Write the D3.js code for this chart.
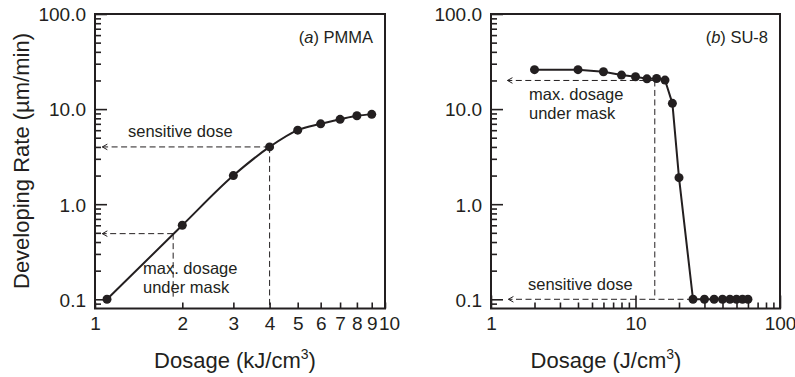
<!DOCTYPE html>
<html>
<head>
<meta charset="utf-8">
<script src="https://cdn.jsdelivr.net/npm/d3@7"></script>
<style>
  html, body { margin: 0; padding: 0; background: #fff; }
  svg { display: block; font-family: "Liberation Sans", Arial, Helvetica, sans-serif; }
</style>
</head>
<body>
<svg id="chart" width="795" height="377"></svg>
<script>
// PMMA (a) – dosage in kJ/cm3, developing rate in um/min
const pmmaDose = [1.1, 2, 3, 4, 5, 6, 7, 8, 9];
const pmmaRate = [0.1, 0.6, 2.0, 4.0, 6.0, 7.0, 7.8, 8.5, 8.8];

// SU-8 (b) – dosage in J/cm3
const su8Dose = [2, 4, 6, 8, 10, 12, 14, 16, 18, 20, 25, 30, 35, 40, 45, 50, 55, 60];
const su8Rate = [26, 26, 24.7, 22.8, 21.9, 20.8, 21, 20.2, 11.5, 1.9, 0.1, 0.1, 0.1, 0.1, 0.1, 0.1, 0.1, 0.1];

// axes
const yTicks      = [0.1, 1, 10, 100];
const yTickLabels = ['0.1', '1.0', '10.0', '100.0'];
const pmmaXTicks  = [1, 2, 3, 4, 5, 6, 7, 8, 9, 10];
const su8XTicks   = [1, 10, 100];

// annotations: anchor point on the curve, arrow tip dosage, text lines
const pmmaNotes = [
  { x: 4, y: 4.0, tipX: 1.06, drop: 0.08 },
  { x: 1.86, y: 0.49, tipX: 1.06, drop: 0.1 }
];
const su8Notes = [
  { x: 13.6, y: 20, tipX: 1.3, drop: 0.1 },
  { x: 25, y: 0.1, tipX: 1.32, drop: null }
];

const ink = '#231f20';
const svg = d3.select('#chart');

svg.append('defs').append('marker')
  .attr('id', 'chev').attr('viewBox', '-7 -4 8 8').attr('refX', 0).attr('refY', 0)
  .attr('markerWidth', 8).attr('markerHeight', 8).attr('markerUnits', 'userSpaceOnUse')
  .attr('orient', 'auto')
  .append('path').attr('d', 'M-5,-2.8L0,0L-5,2.8').attr('fill', 'none')
  .attr('stroke', ink).attr('stroke-width', 1);

function minorLog(lo, hi) {
  const out = [];
  for (let e = Math.floor(Math.log10(lo)); e < Math.ceil(Math.log10(hi)); e++) {
    for (let m = 1; m <= 9; m++) {
      const v = m * Math.pow(10, e);
      if (v >= lo - 1e-9 && v <= hi + 1e-9) out.push(v);
    }
  }
  return out;
}

function drawPanel(cfg) {
  const { x0, x1, xDomain, dose, rate, xTicks, xMajorLen, smooth, notes, tag, tagItalic, tagX, xTitle, xTitleX } = cfg;
  const top = 14, bottom = 308.5;

  const x = d3.scaleLog().domain(xDomain).range([x0, x1]);
  const y = d3.scaleLog().domain([0.08, 100]).range([bottom, top]);

  const g = svg.append('g');

  // y minor ticks
  g.append('g').attr('transform', `translate(${x0},0)`)
    .call(d3.axisLeft(y).tickValues(minorLog(0.09, 100).filter(v => !yTicks.includes(v)))
      .tickSize(-6).tickFormat(''))
    .call(a => a.select('.domain').remove());
  // y major ticks + labels
  g.append('g').attr('transform', `translate(${x0},0)`)
    .call(d3.axisLeft(y).tickValues(yTicks).tickSize(-12).tickPadding(9)
      .tickFormat((d, i) => yTickLabels[i]))
    .call(a => a.select('.domain').remove())
    .call(a => a.selectAll('text').attr('font-size', 19).attr('fill', ink).attr('dy', '0.36em'));

  // x minor ticks
  const xMinor = minorLog(xDomain[0], xDomain[1]).filter(v => !xTicks.includes(v));
  g.append('g').attr('transform', `translate(0,${bottom})`)
    .call(d3.axisBottom(x).tickValues(xMinor).tickSize(-6).tickFormat(''))
    .call(a => a.select('.domain').remove());
  g.append('g').attr('transform', `translate(0,${bottom})`)
    .call(d3.axisBottom(x).tickValues(xTicks).tickSize(-xMajorLen).tickPadding(8)
      .tickFormat(d => String(d)))
    .call(a => a.select('.domain').remove())
    .call(a => a.selectAll('text').attr('font-size', 19).attr('fill', ink).attr('dy', '0.71em'))
    // "10" crowds "9" on the short PMMA axis, nudge it right like the original
    .call(a => a.selectAll('text').filter(d => cfg.nudge && d === 10).attr('dx', 4));

  g.selectAll('.tick line').attr('stroke', ink).attr('stroke-width', 1.6);

  // frame
  g.append('rect').attr('x', x0).attr('y', top).attr('width', x1 - x0).attr('height', bottom - top)
    .attr('fill', 'none').attr('stroke', ink).attr('stroke-width', 2);

  // annotations
  const dash = '6,3.5';
  notes.forEach(n => {
    g.append('line')
      .attr('x1', x(n.x)).attr('y1', y(n.y)).attr('x2', x(n.tipX)).attr('y2', y(n.y))
      .attr('stroke', ink).attr('stroke-width', 1).attr('stroke-dasharray', dash)
      .attr('marker-end', 'url(#chev)');
    if (n.drop != null) {
      g.append('line')
        .attr('x1', x(n.x)).attr('y1', y(n.y)).attr('x2', x(n.x)).attr('y2', y(n.drop))
        .attr('stroke', ink).attr('stroke-width', 1).attr('stroke-dasharray', dash);
    }
  });

  // curve
  const pts = dose.map((d, i) => [d, rate[i]]);
  g.append('path').datum(pts)
    .attr('fill', 'none').attr('stroke', ink).attr('stroke-width', 2)
    .attr('d', d3.line().x(d => x(d[0])).y(d => y(d[1]))
      .curve(smooth ? d3.curveMonotoneX : d3.curveLinear));
  g.append('g').selectAll('circle').data(pts).join('circle')
    .attr('cx', d => x(d[0])).attr('cy', d => y(d[1])).attr('r', 4.5).attr('fill', ink);

  // note texts
  cfg.noteText.forEach(t => {
    const txt = g.append('text').attr('x', t.x).attr('y', t.y)
      .attr('font-size', 16.5).attr('fill', ink);
    t.lines.forEach((l, i) => {
      txt.append('tspan').attr('x', t.x).attr('dy', i === 0 ? 0 : 18.5).text(l);
    });
  });

  // panel tag
  const tg = g.append('text').attr('x', tagX).attr('y', 43).attr('text-anchor', 'end')
    .attr('font-size', 16.5).attr('fill', ink);
  tg.append('tspan').text('(');
  tg.append('tspan').attr('font-style', 'italic').text(tagItalic);
  tg.append('tspan').text(') ' + tag);

  // x title
  const xt = g.append('text').attr('x', xTitleX).attr('y', 368).attr('text-anchor', 'middle')
    .attr('font-size', 22).attr('fill', ink);
  xt.append('tspan').text(xTitle);
  xt.append('tspan').attr('font-size', 14).attr('dy', -9).text('3');
  xt.append('tspan').attr('dy', 9).text(')');
}

drawPanel({
  x0: 95, x1: 385, xDomain: [1, 10], dose: pmmaDose, rate: pmmaRate,
  xTicks: pmmaXTicks, xMajorLen: 6, smooth: true, notes: pmmaNotes, nudge: true,
  noteText: [
    { x: 128, y: 137, lines: ['sensitive dose'] },
    { x: 143, y: 274, lines: ['max. dosage', 'under mask'] }
  ],
  tag: 'PMMA', tagItalic: 'a', tagX: 373,
  xTitle: 'Dosage (kJ/cm', xTitleX: 235
});

drawPanel({
  x0: 491, x1: 780, xDomain: [1, 100], dose: su8Dose, rate: su8Rate,
  xTicks: su8XTicks, xMajorLen: 13, smooth: false, notes: su8Notes, nudge: false,
  noteText: [
    { x: 529, y: 100, lines: ['max. dosage', 'under mask'] },
    { x: 528, y: 290, lines: ['sensitive dose'] }
  ],
  tag: 'SU-8', tagItalic: 'b', tagX: 768,
  xTitle: 'Dosage (J/cm', xTitleX: 606
});

// shared y title
svg.append('text').attr('transform', 'translate(29,161) rotate(-90)')
  .attr('text-anchor', 'middle').attr('font-size', 22).attr('fill', ink)
  .text('Developing Rate (µm/min)');
</script>
</body>
</html>
